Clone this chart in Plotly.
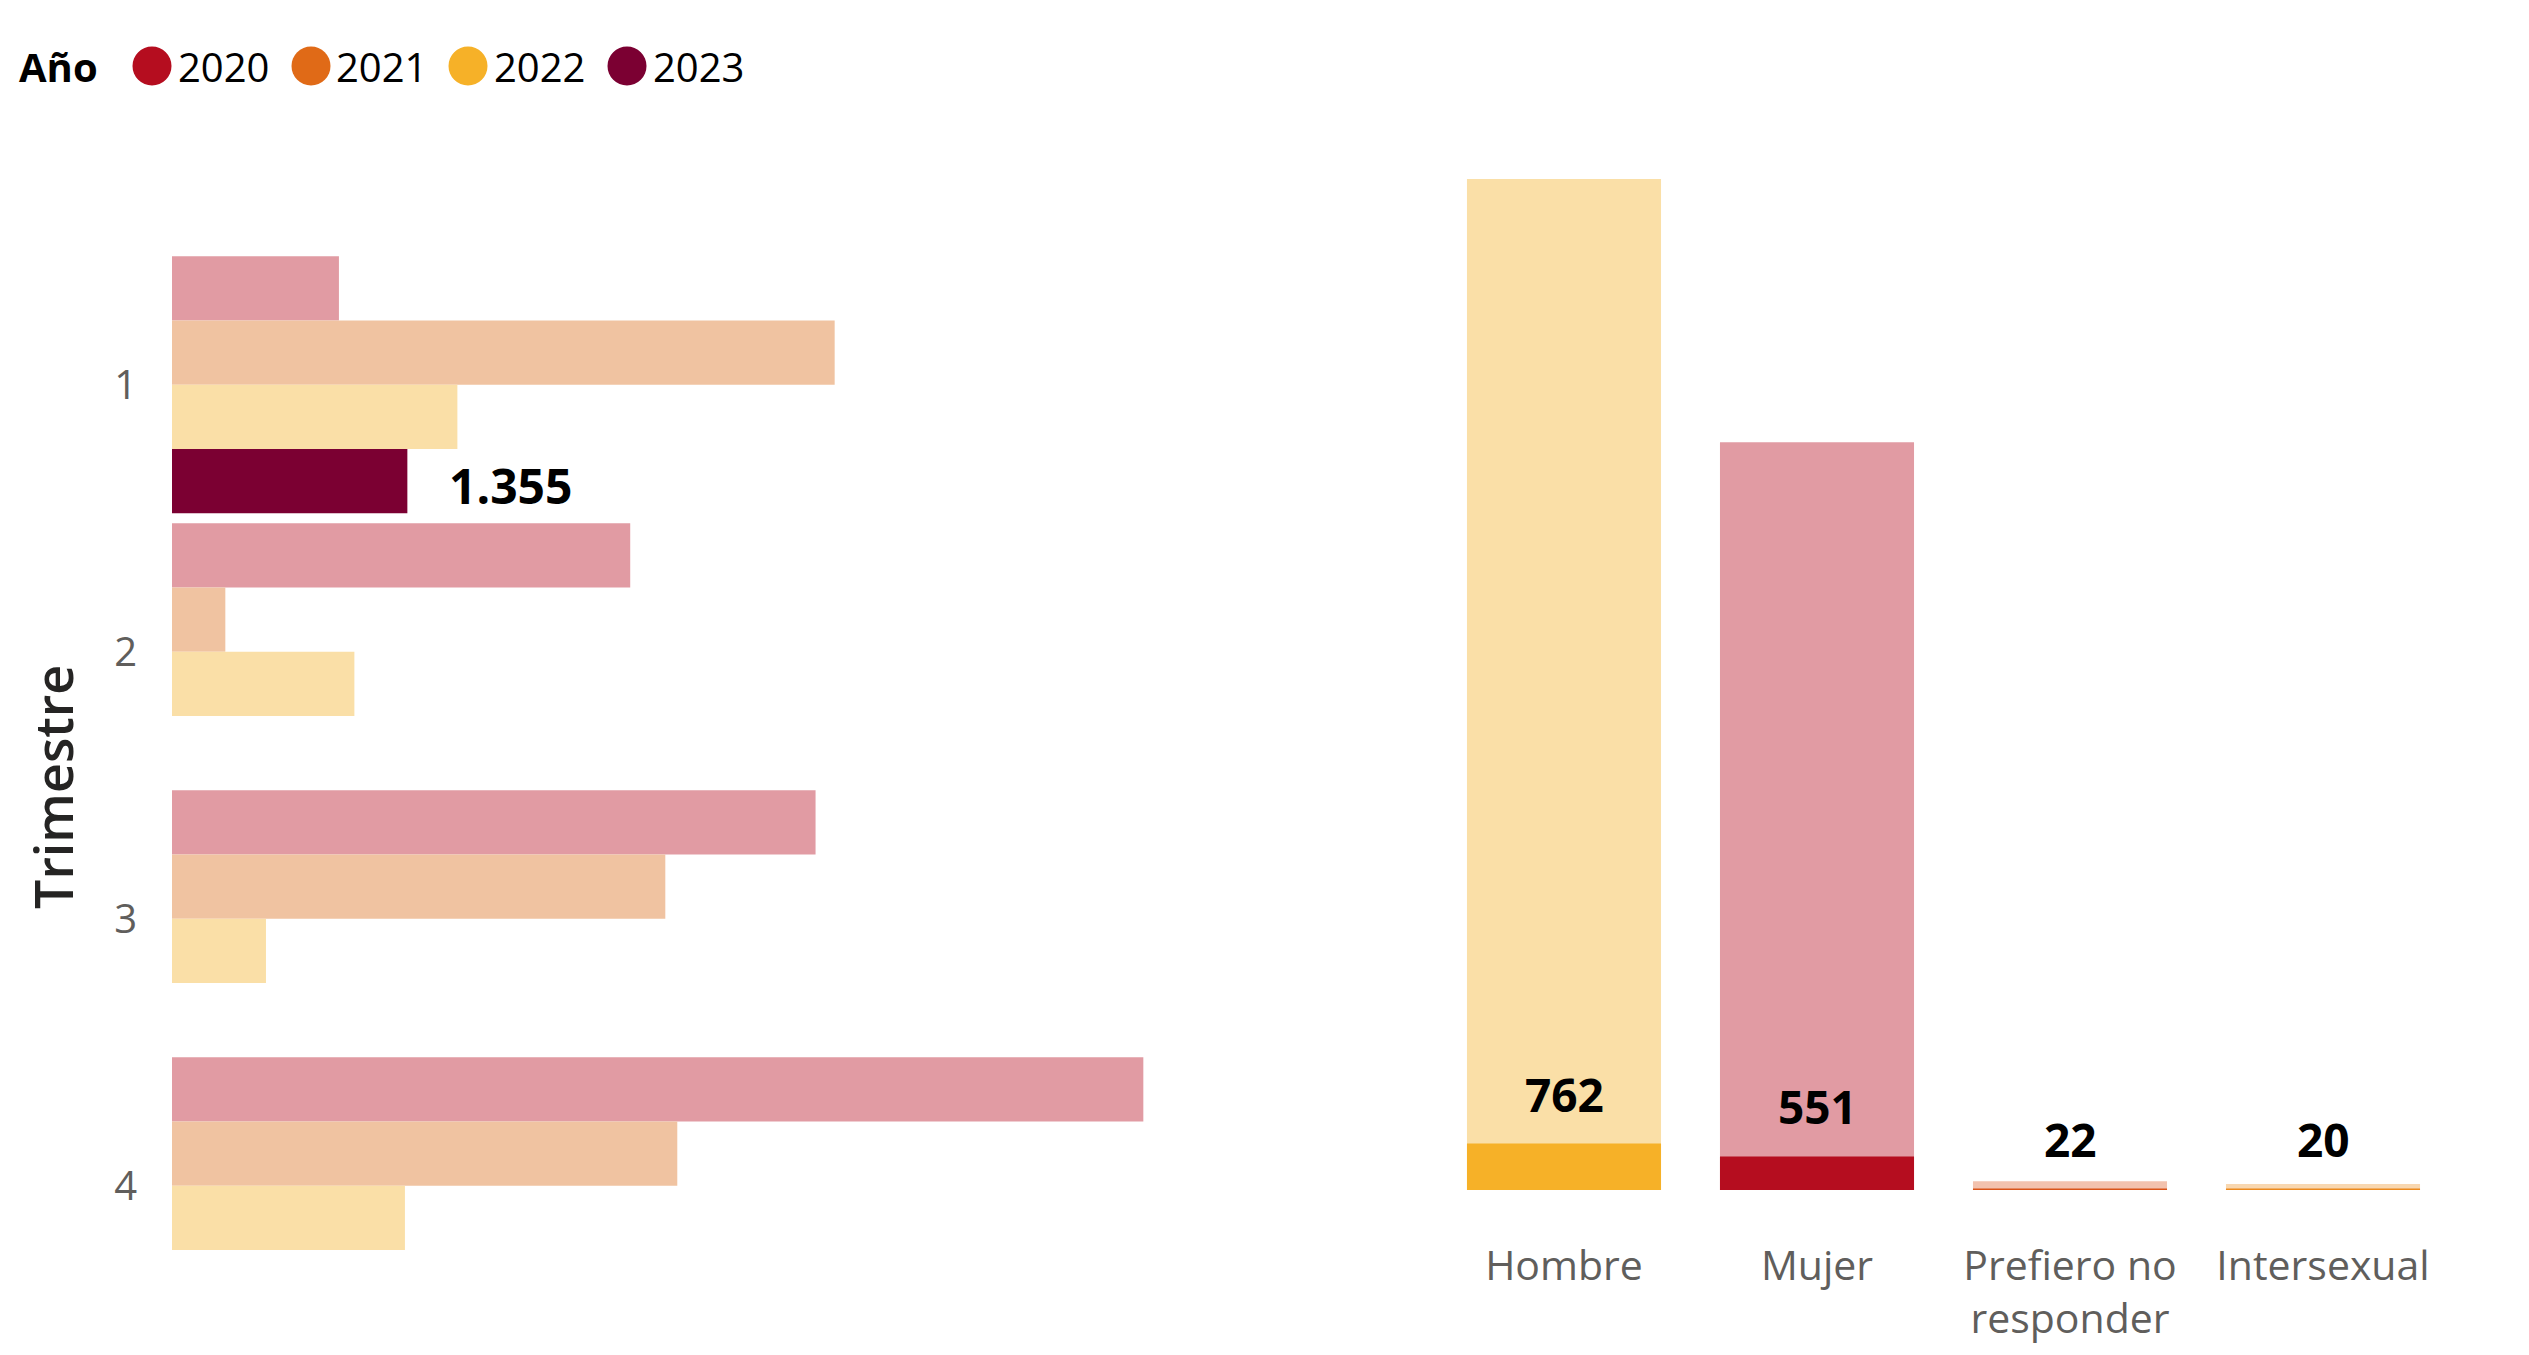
import plotly.graph_objects as go

W, H = 2529, 1355
OFF = 8  # default page body margin
FW, FH = W - OFF, H - OFF

# ---------------- data ----------------
trimestres = ["1", "2", "3", "4"]
years = ["2020", "2021", "2022", "2023"]
v2020 = [961, 2638, 3705, 5592]
v2021 = [3815, 307, 2840, 2909]
v2022 = [1643, 1050, 541, 1341]
v2023 = [1355, None, None, None]

sexo = ["Hombre", "Mujer", "Prefiero no<br>responder", "Intersexual"]
sexo_total = [16580, 12262, 143, 98]
sexo_sel = [762, 551, 22, 20]

# ---------------- styles ----------------
year_solid = ["#B50D1F", "#E06A17", "#F6B128", "#7B0032"]
year_faded = ["#E19BA3", "#F0C3A1", "#FADFA7", "#C9A0B0"]
sexo_solid = ["#F6B128", "#B50D1F", "#D9541A", "#EC8A1E"]
sexo_faded = ["#FADFA7", "#E19BA3", "#F2C2AE", "#F8D7B0"]

FONT = "Segoe UI, Open Sans, sans-serif"
TICK_COLOR = "#605E5C"


def px_x(p):
    return (p - OFF) / FW


def px_y(p):
    return 1 - (p - OFF) / FH


fig = go.Figure()

series = [v2020, v2021, v2022, v2023]
for i, (yr, vals) in enumerate(zip(years, series)):
    if yr == "2023":
        colors = [year_solid[i] for _ in vals]
    else:
        colors = [year_faded[i] for _ in vals]
    fig.add_trace(go.Bar(
        y=trimestres, x=vals, name=yr, orientation="h",
        marker=dict(color=colors, line=dict(width=0)),
        xaxis="x", yaxis="y", showlegend=False, hoverinfo="x+name",
    ))

bw = 0.767
fig.add_trace(go.Bar(
    x=sexo, y=sexo_total, marker=dict(color=sexo_faded, line=dict(width=0)),
    width=bw, offset=-bw / 2, xaxis="x2", yaxis="y2", showlegend=False,
))
fig.add_trace(go.Bar(
    x=sexo, y=sexo_sel, marker=dict(color=sexo_solid, line=dict(width=0)),
    width=bw, offset=-bw / 2, xaxis="x2", yaxis="y2", showlegend=False,
))

annotations = []
bargap = 0.0375
slot = (1 - bargap) / 4
off2023 = -(1 - bargap) / 2 + 3.5 * slot
annotations.append(dict(
    x=v2023[0], y=0 + off2023, xref="x", yref="y", text="1.355",
    showarrow=False, xanchor="left", yanchor="middle", xshift=40, yshift=-4,
    font=dict(family=FONT, size=48, color="#000000", weight="bold"),
))
for cat, v in zip(sexo, sexo_sel):
    annotations.append(dict(
        x=cat, y=v, xref="x2", yref="y2", text=f"{v}",
        showarrow=False, xanchor="center", yanchor="middle", yshift=50,
        font=dict(family=FONT, size=46, color="#000000", weight="bold"),
    ))

annotations.append(dict(
    x=px_x(52), y=px_y(787), xref="paper", yref="paper", text="Trimestre",
    textangle=-90, showarrow=False, xanchor="center", yanchor="middle",
    font=dict(family=FONT, size=52, color="#252423", weight=600),
))

shapes = []
annotations.append(dict(
    x=px_x(17), y=px_y(66), xref="paper", yref="paper", text="Año",
    showarrow=False, xanchor="left", yanchor="middle",
    font=dict(family=FONT, size=40, color="#000000", weight="bold"),
))
leg_cx = [152, 311, 468, 627]
r = 19.5
for yr, col, cx in zip(years, year_solid, leg_cx):
    shapes.append(dict(
        type="circle", xref="paper", yref="paper",
        x0=px_x(cx - r), x1=px_x(cx + r), y0=px_y(66 + r), y1=px_y(66 - r),
        fillcolor=col, line=dict(width=0),
    ))
    annotations.append(dict(
        x=px_x(cx + r + 4), y=px_y(66), xref="paper", yref="paper", text=yr,
        showarrow=False, xanchor="left", yanchor="middle",
        font=dict(family=FONT, size=40, color="#000000"),
    ))

left_scale = 0.1737  # px per unit
left_max = 6000
right_max = 17000
right_base = 1190
right_top = right_base - right_max / 16.4

fig.update_layout(
    width=FW, height=FH, autosize=False,
    margin=dict(l=0, r=0, t=0, b=0),
    paper_bgcolor="white", plot_bgcolor="white",
    barmode="group", bargap=bargap, bargroupgap=0,
    font=dict(family=FONT, color=TICK_COLOR),
    xaxis=dict(domain=[px_x(172), px_x(172 + left_max * left_scale)],
               range=[0, left_max], visible=False, showgrid=False, zeroline=False),
    yaxis=dict(domain=[px_y(1319.2), px_y(251.2)], type="category",
               categoryorder="array", categoryarray=trimestres,
               range=[3.5, -0.5], showgrid=False, zeroline=False, showline=False,
               ticks="", ticklabelstandoff=34,
               tickfont=dict(family=FONT, size=40, color=TICK_COLOR)),
    xaxis2=dict(domain=[px_x(1437.5), px_x(2449.5)], anchor="y2", type="category",
                categoryorder="array", categoryarray=sexo,
                showgrid=False, zeroline=False, showline=False, ticks="",
                ticklabelstandoff=48,
                tickfont=dict(family=FONT, size=41, color=TICK_COLOR)),
    yaxis2=dict(domain=[px_y(right_base), px_y(right_top)], anchor="x2",
                range=[0, right_max], visible=False, showgrid=False, zeroline=False),
    annotations=annotations,
    shapes=shapes,
)

fig.write_html("out.html")
